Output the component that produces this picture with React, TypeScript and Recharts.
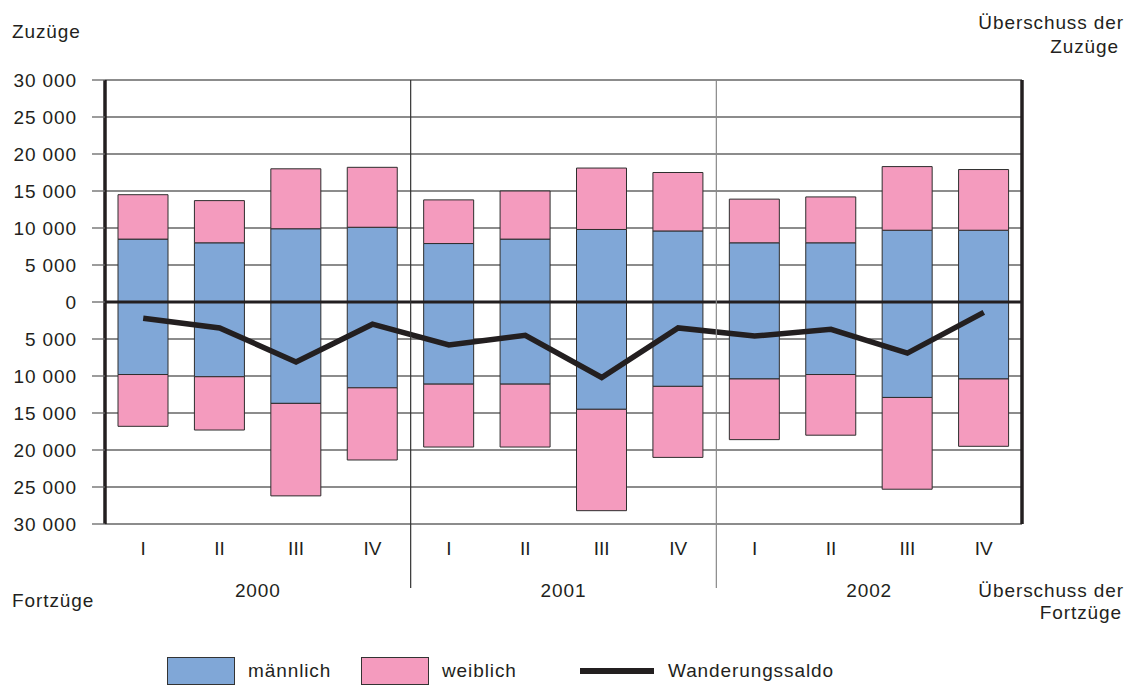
import React from 'react';
import {
  ComposedChart,
  Bar,
  Line,
  XAxis,
  YAxis,
  CartesianGrid,
  ReferenceLine,
  Legend,
} from 'recharts';

// ---- data ----
const quarters = ['I', 'II', 'III', 'IV', 'I', 'II', 'III', 'IV', 'I', 'II', 'III', 'IV'];
const years = ['2000', '2001', '2002'];
// Zuzüge (arrivals)
const zuzuegeMaennlich = [8500, 8000, 9900, 10100, 7900, 8500, 9800, 9600, 8000, 8000, 9700, 9700];
const zuzuegeWeiblich = [6000, 5700, 8100, 8100, 5900, 6500, 8300, 7900, 5900, 6200, 8600, 8200];
// Fortzüge (departures), drawn below zero
const fortzuegeMaennlich = [9800, 10100, 13700, 11600, 11100, 11100, 14500, 11400, 10400, 9800, 12900, 10400];
const fortzuegeWeiblich = [7000, 7200, 12500, 9750, 8500, 8500, 13700, 9600, 8200, 8200, 12400, 9100];
// Wanderungssaldo
const saldo = [-2200, -3500, -8100, -3000, -5800, -4500, -10200, -3500, -4600, -3700, -6900, -1400];
const yTicks = [-30000, -25000, -20000, -15000, -10000, -5000, 0, 5000, 10000, 15000, 20000, 25000, 30000];
const legendOrder = ['männlich', 'weiblich', 'Wanderungssaldo'];

const data = quarters.map((q, i) => ({
  key: `${years[Math.floor(i / 4)]} ${q}`,
  mIn: zuzuegeMaennlich[i],
  fIn: zuzuegeWeiblich[i],
  mOut: -fortzuegeMaennlich[i],
  fOut: -fortzuegeWeiblich[i],
  saldo: saldo[i],
}));

const FONT = '"Liberation Sans", Arial, Helvetica, sans-serif';
const BLUE = '#80a7d7';
const PINK = '#f49bbe';
const DARK = '#231f20';
const GRID = '#666666';
const TEXT = '#231f20';
const LS = 0.9;

const fmt = (v: number) => {
  const a = Math.abs(v);
  if (a === 0) return '0';
  const th = Math.floor(a / 1000);
  const rest = String(a % 1000).padStart(3, '0');
  return `${th} ${rest}`;
};

const LeftTick = (props: any) => {
  const { x, y, payload } = props;
  return (
    <text x={x} y={y} dy="0.36em" textAnchor="end" fontFamily={FONT} fontSize={19} letterSpacing={LS} fill={TEXT}>
      {fmt(payload.value)}
    </text>
  );
};

const RightTick = (props: any) => {
  const { x, y, payload } = props;
  return (
    <text x={x + 84} y={y} dy="0.36em" textAnchor="end" fontFamily={FONT} fontSize={19} letterSpacing={LS} fill={TEXT}>
      {fmt(payload.value)}
    </text>
  );
};

const XTick = (props: any) => {
  const { x, y, payload, index } = props;
  const off = payload && payload.offset ? payload.offset : 917 / 24;
  const yearIdx = index === 1 ? 0 : index === 5 ? 1 : index === 9 ? 2 : -1;
  const sep = index === 3 || index === 7;
  return (
    <g>
      <text x={x} y={y + 31} textAnchor="middle" fontFamily={FONT} fontSize={19} fill={TEXT}>
        {quarters[index]}
      </text>
      {yearIdx >= 0 && (
        <text x={x + off} y={y + 73} textAnchor="middle" fontFamily={FONT} fontSize={19} letterSpacing={LS} fill={TEXT}>
          {years[yearIdx]}
        </text>
      )}
      {sep && (
        <line
          x1={x + off}
          x2={x + off}
          y1={y - 444}
          y2={y + 64}
          stroke={index === 3 ? '#333' : '#888'}
          strokeWidth={1.2}
        />
      )}
    </g>
  );
};

const LegendContent = (props: any) => {
  const payload = (props.payload || [])
    .filter((p: any) => p.type !== 'none' && legendOrder.indexOf(p.value) >= 0)
    .sort((a: any, b: any) => legendOrder.indexOf(a.value) - legendOrder.indexOf(b.value));
  const starts = [167, 361, 580];
  return (
    <div style={{ position: 'relative', width: 1134, height: 32, fontFamily: FONT }}>
      {payload.map((p: any, i: number) => {
        const isLine = p.type === 'line';
        const left = starts[i] ?? 0;
        return (
          <div key={i} style={{ position: 'absolute', left, top: 0, height: 32 }}>
            {isLine ? (
              <div style={{ position: 'absolute', left: 0, top: 13, width: 74, height: 6, background: DARK }} />
            ) : (
              <div
                style={{
                  position: 'absolute',
                  left: 0,
                  top: 2,
                  width: 66,
                  height: 26,
                  background: p.color,
                  border: '1px solid #333',
                }}
              />
            )}
            <div
              style={{
                position: 'absolute',
                left: isLine ? 88 : 81,
                top: 5,
                fontSize: 19,
                lineHeight: '22px',
                letterSpacing: LS,
                color: TEXT,
                whiteSpace: 'nowrap',
              }}
            >
              {p.value}
            </div>
          </div>
        );
      })}
    </div>
  );
};

export default function App() {
  return (
    <div style={{ position: 'absolute', left: 0, top: 0, width: 1134, height: 689, background: '#fff' }}>
      <ComposedChart
        width={1134}
        height={689}
        data={data}
        stackOffset="sign"
        margin={{ top: 80, right: 0, bottom: 33, left: 0 }}
        style={{ fontFamily: FONT }}
      >
        <CartesianGrid yAxisId="l" horizontal vertical={false} stroke={GRID} strokeWidth={1.3} />
        <XAxis
          dataKey="key"
          interval={0}
          tickLine={false}
          axisLine={false}
          tickSize={0}
          tickMargin={0}
          height={100}
          tick={<XTick />}
        />
        <YAxis
          yAxisId="l"
          orientation="left"
          width={105}
          domain={[-30000, 30000]}
          ticks={yTicks}
          interval={0}
          tickSize={13}
          tickMargin={15}
          tickLine={{ stroke: GRID, strokeWidth: 1.3 }}
          axisLine={{ stroke: DARK, strokeWidth: 3.5 }}
          tick={<LeftTick />}
        />
        <YAxis
          yAxisId="r"
          orientation="right"
          width={112}
          domain={[-30000, 30000]}
          ticks={yTicks}
          interval={0}
          tickSize={13}
          tickMargin={0}
          tickLine={{ stroke: GRID, strokeWidth: 1.3 }}
          axisLine={{ stroke: DARK, strokeWidth: 3.5 }}
          tick={<RightTick />}
        />
        <Bar yAxisId="l" dataKey="mIn" name="männlich" stackId="s" fill={BLUE} stroke="#2e2e2e" strokeWidth={1} barSize={50} legendType="rect" isAnimationActive={false} />
        <Bar yAxisId="l" dataKey="fIn" name="weiblich" stackId="s" fill={PINK} stroke="#2e2e2e" strokeWidth={1} barSize={50} legendType="rect" isAnimationActive={false} />
        <Bar yAxisId="l" dataKey="mOut" name="männlich (Fortzüge)" stackId="s" fill={BLUE} stroke="#2e2e2e" strokeWidth={1} barSize={50} legendType="none" isAnimationActive={false} />
        <Bar yAxisId="l" dataKey="fOut" name="weiblich (Fortzüge)" stackId="s" fill={PINK} stroke="#2e2e2e" strokeWidth={1} barSize={50} legendType="none" isAnimationActive={false} />
        <ReferenceLine yAxisId="l" y={0} stroke={DARK} strokeWidth={3.2} />
        <Line
          yAxisId="l"
          type="linear"
          dataKey="saldo"
          name="Wanderungssaldo"
          stroke={DARK}
          strokeWidth={5.5}
          strokeLinejoin="miter"
          dot={false}
          activeDot={false}
          legendType="line"
          isAnimationActive={false}
        />
        <Legend
          verticalAlign="bottom"
          content={<LegendContent />}
          wrapperStyle={{ position: 'absolute', left: 0, top: 655, width: 1134, height: 32 }}
        />
      </ComposedChart>
      <svg
        width={1134}
        height={689}
        style={{ position: 'absolute', left: 0, top: 0, pointerEvents: 'none' }}
      >
        <g fontFamily={FONT} fontSize={19} letterSpacing={LS} fill={TEXT}>
          <text x={12} y={38}>Zuzüge</text>
          <text x={1124} y={29} textAnchor="end">Überschuss der</text>
          <text x={1119} y={53} textAnchor="end">Zuzüge</text>
          <text x={12} y={607}>Fortzüge</text>
          <text x={1124} y={597} textAnchor="end">Überschuss der</text>
          <text x={1122} y={619} textAnchor="end">Fortzüge</text>
        </g>
      </svg>
    </div>
  );
}
